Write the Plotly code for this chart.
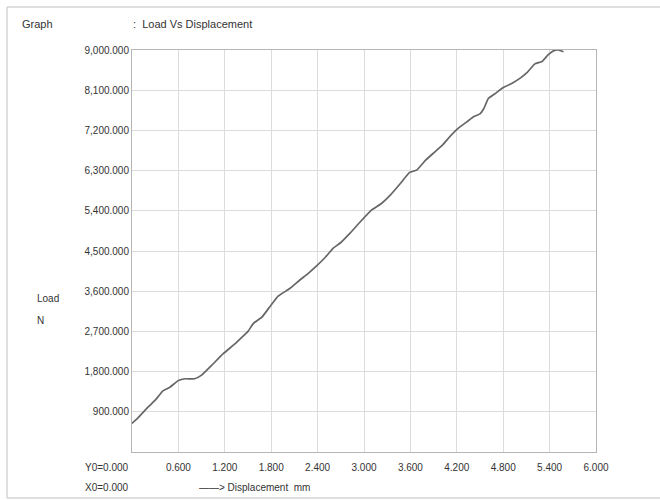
import plotly.graph_objects as go

# Load vs displacement test record
displacement_mm = [0.00, 0.08, 0.21, 0.30, 0.40, 0.49, 0.60, 0.69, 0.81, 0.90,
                   1.03, 1.18, 1.33, 1.44, 1.50, 1.57, 1.68, 1.79, 1.89, 2.04,
                   2.17, 2.28, 2.39, 2.50, 2.60, 2.70, 2.82, 2.95, 3.10, 3.23,
                   3.34, 3.47, 3.59, 3.68, 3.80, 3.91, 4.02, 4.11, 4.22, 4.33,
                   4.42, 4.50, 4.55, 4.61, 4.70, 4.80, 4.91, 5.02, 5.10, 5.21,
                   5.30, 5.38, 5.45, 5.51, 5.58]
load_n = [640, 770, 1010, 1160, 1370, 1450, 1600, 1640, 1640, 1720,
          1940, 2200, 2420, 2600, 2700, 2880, 3020, 3270, 3490, 3660,
          3850, 4000, 4170, 4360, 4560, 4690, 4900, 5150, 5420, 5570,
          5750, 6010, 6260, 6310, 6540, 6710, 6880, 7060, 7250, 7390,
          7510, 7570, 7690, 7920, 8030, 8160, 8250, 8370, 8480, 8690,
          8740, 8890, 8980, 9000, 8960]

x_ticks = [0.6, 1.2, 1.8, 2.4, 3.0, 3.6, 4.2, 4.8, 5.4, 6.0]
y_ticks = [900, 1800, 2700, 3600, 4500, 5400, 6300, 7200, 8100, 9000]

W, H = 660, 500
L, R, T, B = 132, 64, 50, 48
PW, PH = W - L - R, H - T - B


def px(x):
    return (x - L) / PW


def py(y):
    return (H - B - y) / PH


FONT = "Liberation Sans, Arial, sans-serif"
TXT = "#333333"

fig = go.Figure(go.Scatter(
    x=displacement_mm, y=load_n, mode="lines",
    line=dict(color="#666666", width=1.7, shape="spline", smoothing=0.4),
    cliponaxis=False, hoverinfo="skip"))

axis_common = dict(
    showgrid=True, gridcolor="#dcdcdc", gridwidth=1,
    showline=True, linecolor="#b5b5b5", linewidth=1, mirror=True,
    zeroline=False, ticks="", tickfont=dict(family=FONT, size=10, color=TXT),
    tickformat=",.3f", fixedrange=True,
)

fig.update_xaxes(range=[0, 6.0], tickvals=x_ticks, ticklabelstandoff=6, **axis_common)
fig.update_yaxes(range=[0, 9000], tickvals=y_ticks, ticklabelstandoff=0, **axis_common)

annotations = [
    dict(x=px(20), y=py(24), text="Graph", xanchor="left", size=11),
    dict(x=px(131), y=py(24), text=":  Load Vs Displacement", xanchor="left", size=11),
    dict(x=px(35), y=py(298), text="Load", xanchor="left", size=10),
    dict(x=px(35), y=py(320), text="N", xanchor="left", size=10),
    dict(x=px(131), y=py(467), text="Y0=0.000", xanchor="right", size=10),
    dict(x=px(131), y=py(487), text="X0=0.000", xanchor="right", size=10),
    dict(x=px(197), y=py(487), text="——> Displacement  mm", xanchor="left", size=10),
]
for a in annotations:
    size = a.pop("size")
    a.update(xref="paper", yref="paper", yanchor="middle", showarrow=False,
             font=dict(family=FONT, size=size, color=TXT))

# outer frame of the report panel
frame = [
    dict(x0=px(7), x1=px(660), y0=py(7), y1=py(7)),
    dict(x0=px(7), x1=px(7), y0=py(7), y1=py(498)),
    dict(x0=px(7), x1=px(660), y0=py(498), y1=py(498)),
]
shapes = [dict(type="line", xref="paper", yref="paper",
               line=dict(color="#d4d4d4", width=1.5), **s) for s in frame]

fig.update_layout(
    width=W, height=H, margin=dict(l=L, r=R, t=T, b=B),
    paper_bgcolor="white", plot_bgcolor="white", showlegend=False,
    annotations=annotations, shapes=shapes,
    font=dict(family=FONT, size=10, color=TXT),
)

fig.write_html("out.html")
